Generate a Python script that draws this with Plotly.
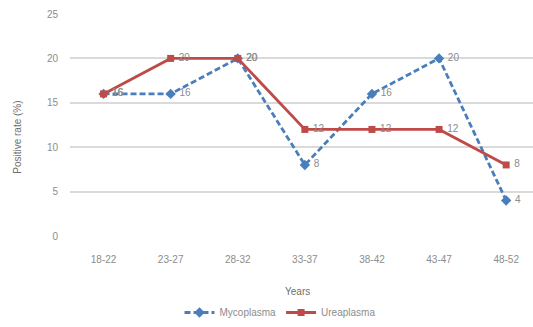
import plotly.graph_objects as go

categories = ["18-22", "23-27", "28-32", "33-37", "38-42", "43-47", "48-52"]
mycoplasma = [16, 16, 20, 8, 16, 20, 4]
ureaplasma = [16, 20, 20, 12, 12, 12, 8]
y_ticks = [0, 5, 10, 15, 20, 25]

W, H = 533, 327
L, R, T, B = 70, 0, 14, 87
PLOT_H = H - T - B
FONT = "Liberation Sans"
GREY = "#8c8c8c"
DARK = "#6f6f6f"

fig = go.Figure()
fig.add_trace(go.Scatter(
    x=categories, y=mycoplasma, name="Mycoplasma", mode="lines+markers+text",
    line=dict(color="#4a7ebb", width=2.8, dash="6px,3px"),
    marker=dict(symbol="diamond", size=8, color="#4a7ebb"),
    text=[" " + str(v) for v in mycoplasma], textposition="middle right",
    textfont=dict(color=GREY, size=10, family=FONT),
))
fig.add_trace(go.Scatter(
    x=categories, y=ureaplasma, name="Ureaplasma", mode="lines+markers+text",
    line=dict(color="#be4b48", width=2.8),
    marker=dict(symbol="square", size=7, color="#be4b48"),
    text=[" " + str(v) for v in ureaplasma], textposition="middle right",
    textfont=dict(color=GREY, size=10, family=FONT),
))

fig.update_layout(
    width=W, height=H, margin=dict(l=L, r=R, t=T, b=B),
    paper_bgcolor="white", plot_bgcolor="white",
    font=dict(family=FONT, size=10, color=GREY),
    showlegend=True,
    legend=dict(orientation="h", x=(280 - L) / (W - L), xanchor="center",
                y=-(318 - 240) / PLOT_H, yanchor="middle",
                font=dict(size=10, color=GREY), itemwidth=30, bgcolor="rgba(0,0,0,0)"),
    xaxis=dict(type="category", range=[-0.5, 6.4], showgrid=False, zeroline=False,
               showline=False, ticks="", ticklabelstandoff=16, tickfont=dict(size=10, color=GREY)),
    yaxis=dict(range=[0, 25], tickvals=y_ticks, showgrid=True, gridcolor="#dadada", gridwidth=2,
               zeroline=False, showline=False, ticks="", ticklabelstandoff=11,
               tickfont=dict(size=10, color=GREY)),
    annotations=[
        dict(text="Years", xref="paper", yref="paper", x=(297 - L) / (W - L), y=-(296 - 240) / PLOT_H,
             showarrow=False, font=dict(size=10, color=DARK), xanchor="center", yanchor="middle"),
        dict(text="Positive rate (%)", xref="paper", yref="paper", x=-(70 - 18) / (W - L),
             y=(240 - 140) / PLOT_H, showarrow=False, textangle=-90,
             font=dict(size=10, color=DARK), xanchor="center", yanchor="middle"),
    ],
)

fig.write_html("out.html")
